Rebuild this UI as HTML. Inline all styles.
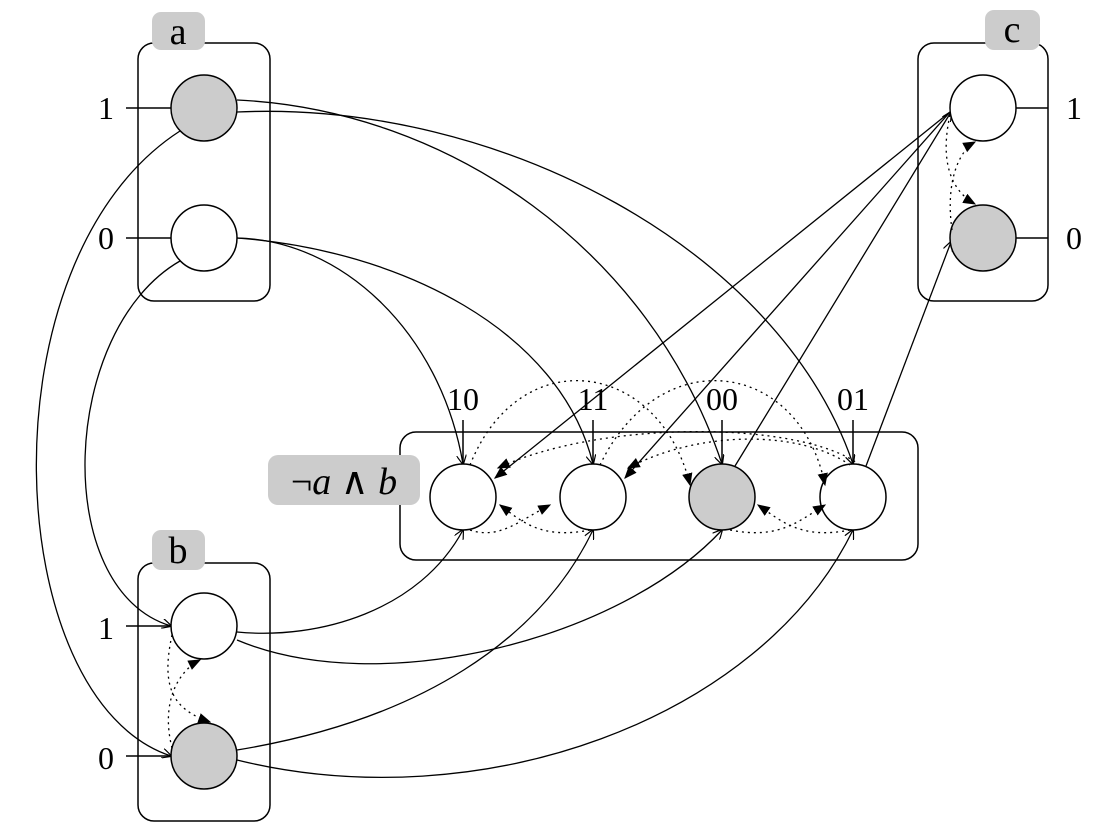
<!DOCTYPE html>
<html><head><style>body{margin:0;background:#fff}svg{display:block}</style></head>
<body>
<svg width="1096" height="834" viewBox="0 0 1096 834" xmlns="http://www.w3.org/2000/svg" font-family="Liberation Serif, serif">
<defs>
<marker id="o" viewBox="0 0 10 10" refX="9" refY="5" markerWidth="10" markerHeight="10" orient="auto" markerUnits="userSpaceOnUse"><path d="M0,0 L10,5 L0,10" fill="none" stroke="#000" stroke-width="1.2"/></marker>
<marker id="f" viewBox="0 0 10 10" refX="9" refY="5" markerWidth="13" markerHeight="13" orient="auto" markerUnits="userSpaceOnUse"><path d="M0,1 L10,5 L0,9 z" fill="#000"/></marker>
</defs>
<g fill="none" stroke="#000" stroke-width="1.5">
<rect x="138" y="43" width="132" height="258" rx="16"/>
<rect x="918" y="43" width="130" height="258" rx="16"/>
<rect x="138" y="563" width="132" height="258" rx="16"/>
<rect x="400" y="432" width="518" height="128" rx="16"/>
</g>
<g fill="#ccc">
<rect x="152" y="12" width="53" height="38" rx="9"/>
<rect x="985" y="10" width="55" height="40" rx="9"/>
<rect x="152" y="530" width="53" height="40" rx="9"/>
<rect x="268" y="455" width="152" height="50" rx="10"/>
</g>
<g font-size="38" text-anchor="middle">
<text x="178" y="44">a</text><text x="1012" y="42">c</text><text x="178" y="563">b</text>
<text x="344" y="494" font-style="italic"><tspan font-style="normal">¬</tspan>a <tspan font-style="normal">∧</tspan> b</text>
</g>
<g font-size="32">
<text x="98" y="119">1</text><text x="98" y="249">0</text>
<text x="98" y="639">1</text><text x="98" y="769">0</text>
<text x="1066" y="119">1</text><text x="1066" y="249">0</text>
<text x="463" y="410" text-anchor="middle">10</text>
<text x="593" y="410" text-anchor="middle">11</text>
<text x="722" y="410" text-anchor="middle">00</text>
<text x="853" y="410" text-anchor="middle">01</text>
</g>
<g stroke="#000" stroke-width="1.5" fill="none">
<path d="M126,108 H171 M126,238 H171 M126,626 H170 M126,756 H170 M1016,108 H1048 M1016,238 H1048"/>
<path d="M463,420 V464 M593,420 V464 M722,420 V464 M853,420 V464"/>
</g>
<g stroke="#000" stroke-width="1.3" fill="none" marker-end="url(#o)">
<path d="M237,100 C450,110 650,250 722,464"/>
<path d="M237,112 C500,100 780,250 853,464"/>
<path d="M180,131 C-20,260 0,700 171,756"/>
<path d="M237,238 C340,240 440,330 463,464"/>
<path d="M237,238 C400,250 560,330 593,464"/>
<path d="M180,261 C60,330 50,590 171,626"/>
<path d="M237,632 C320,640 420,610 463,530"/>
<path d="M237,640 C380,700 620,640 722,530"/>
<path d="M237,750 C420,720 540,640 593,530"/>
<path d="M237,760 C480,820 760,720 853,530"/>
<path d="M735,466 L951,112"/>
<path d="M866,466 L951,242"/>
</g>
<g stroke="#000" stroke-width="1.3" fill="none" marker-end="url(#f)">
<path d="M950,112 L495,478"/>
<path d="M950,112 L625,478"/>
</g>
<g fill="#fff" stroke="#000" stroke-width="1.5">
<circle cx="204" cy="108" r="33" fill="#ccc"/>
<circle cx="204" cy="238" r="33"/>
<circle cx="983" cy="108" r="33"/>
<circle cx="983" cy="238" r="33" fill="#ccc"/>
<circle cx="204" cy="626" r="33"/>
<circle cx="204" cy="756" r="33" fill="#ccc"/>
<circle cx="463" cy="497" r="33"/>
<circle cx="593" cy="497" r="33"/>
<circle cx="722" cy="497" r="33" fill="#ccc"/>
<circle cx="853" cy="497" r="33"/>
</g>
<g stroke="#000" stroke-width="1.3" fill="none" stroke-dasharray="2,4" marker-end="url(#f)">
<path d="M470,465 C520,340 660,360 690,485"/>
<path d="M600,465 C660,340 800,360 825,485"/>
<path d="M860,465 C800,420 600,420 498,468"/>
<path d="M850,465 C800,430 700,430 628,468"/>
<path d="M470,530 C500,540 520,520 550,505"/>
<path d="M590,530 C540,540 520,520 500,505"/>
<path d="M730,530 C780,540 800,520 825,505"/>
<path d="M850,530 C800,540 780,520 758,505"/>
<path d="M172,635 C160,690 175,710 210,722"/>
<path d="M172,748 C160,700 180,670 200,660"/>
<path d="M950,115 C940,160 950,190 975,204"/>
<path d="M952,230 C945,180 960,150 975,142"/>
</g>
</svg>
</body></html>
